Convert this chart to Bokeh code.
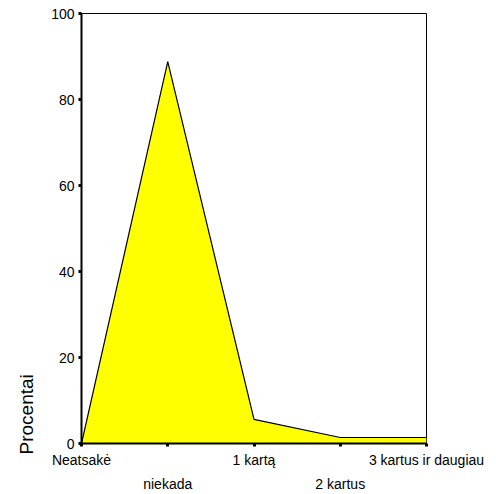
from bokeh.plotting import figure
from bokeh.models import Range1d, LinearAxis, FixedTicker, Title
from bokeh.embed import file_html
from bokeh.resources import INLINE

categories = ["Neatsakė", "niekada", "1 kartą", "2 kartus", "3 kartus ir daugiau"]
percent = [0.0, 88.8, 5.6, 1.4, 1.4]
y_ticks = [0, 20, 40, 60, 80, 100]

xs = list(range(len(categories)))
FONT = "Liberation Sans"

p = figure(width=496, height=494, output_backend="svg", toolbar_location=None,
           x_range=Range1d(0, len(categories) - 1), y_range=Range1d(0, 100),
           x_axis_type=None, y_axis_type=None,
           min_border_left=81, min_border_right=70, min_border_top=13, min_border_bottom=50)
p.background_fill_color = "white"
p.border_fill_color = "white"
p.outline_line_color = "black"
p.outline_line_width = 1
p.xgrid.visible = False
p.ygrid.visible = False

p.varea(x=xs, y1=[0] * len(xs), y2=percent, fill_color="#ffff00")
p.line(x=xs, y=percent, line_color="black", line_width=1.2)

# y axis
ya = LinearAxis(ticker=FixedTicker(ticks=y_ticks))
ya.axis_line_width = 2
ya.major_tick_in = 0
ya.major_tick_out = 3
ya.major_tick_line_width = 3
ya.minor_tick_line_color = None
ya.major_label_standoff = 4
ya.major_label_text_font = FONT
ya.major_label_text_font_size = "14px"
ya.major_label_text_color = "black"
p.add_layout(ya, "left")

ylab = Title(text="Procentai", align="left", offset=-11, standoff=24,
             text_font=FONT, text_font_size="19px", text_font_style="normal",
             text_color="black")
p.add_layout(ylab, "left")

# x axis (first row of labels)
xa = LinearAxis(ticker=FixedTicker(ticks=xs))
xa.major_label_overrides = {i: (c if i % 2 == 0 else "") for i, c in enumerate(categories)}
xa.axis_line_width = 2
xa.major_tick_in = 0
xa.major_tick_out = 3
xa.major_tick_line_width = 3
xa.minor_tick_line_color = None
xa.major_label_standoff = 5
xa.major_label_text_font = FONT
xa.major_label_text_font_size = "14px"
xa.major_label_text_color = "black"
p.add_layout(xa, "below")

# second row of labels
odd = [i for i in xs if i % 2 == 1]
xb = LinearAxis(ticker=FixedTicker(ticks=odd))
xb.major_label_overrides = {i: categories[i] for i in odd}
xb.axis_line_color = None
xb.major_tick_line_color = None
xb.minor_tick_line_color = None
xb.major_tick_in = 0
xb.major_tick_out = 0
xb.major_label_standoff = 5
xb.major_label_text_font = FONT
xb.major_label_text_font_size = "14px"
xb.major_label_text_color = "black"
p.add_layout(xb, "below")

open("out.html", "w").write(file_html(p, INLINE))
